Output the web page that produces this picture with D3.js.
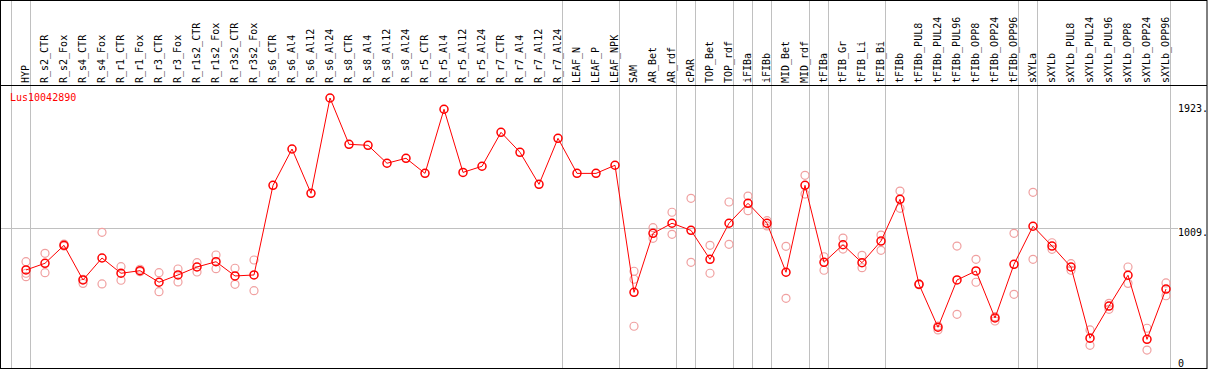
<!DOCTYPE html>
<html lang="en">
<head>
<meta charset="UTF-8">
<title>Lus10042890 expression</title>
<script src="https://cdn.jsdelivr.net/npm/d3@7"></script>
<style>
  body { margin: 0; background: #fff; }
  text { font-family: "DejaVu Sans Mono", monospace; font-size: 10px; }
</style>
</head>
<body>
<div id="chart"></div>
<script>
// sample names (one column each)
var samples = ["HYP","R_s2_CTR","R_s2_Fox","R_s4_CTR","R_s4_Fox","R_r1_CTR","R_r1_Fox","R_r3_CTR","R_r3_Fox",
  "R_r1s2_CTR","R_r1s2_Fox","R_r3s2_CTR","R_r3s2_Fox","R_s6_CTR","R_s6_Al4","R_s6_Al12","R_s6_Al24",
  "R_s8_CTR","R_s8_Al4","R_s8_Al12","R_s8_Al24","R_r5_CTR","R_r5_Al4","R_r5_Al12","R_r5_Al24",
  "R_r7_CTR","R_r7_Al4","R_r7_Al12","R_r7_Al24","LEAF_N","LEAF_P","LEAF_NPK","SAM","AR_Bet","AR_rdf",
  "cPAR","TOP_Bet","TOP_rdf","iFIBa","iFIBb","MID_Bet","MID_rdf","tFIBa","tFIB_Gr","tFIB_Li","tFIB_Bi",
  "tFIBb","tFIBb_PUL8","tFIBb_PUL24","tFIBb_PUL96","tFIBb_OPP8","tFIBb_OPP24","tFIBb_OPP96",
  "sXYLa","sXYLb","sXYLb_PUL8","sXYLb_PUL24","sXYLb_PUL96","sXYLb_OPP8","sXYLb_OPP24","sXYLb_OPP96"];

// mean expression per sample
var meanValues = [716,763,889,646,800,693,711,630,681,737,774,674,681,1310,1565,1254,1923,
  1598,1591,1465,1500,1394,1844,1401,1444,1682,1542,1317,1640,1394,1394,1451,559,973,1044,
  994,791,1044,1184,1044,700,1310,770,893,767,919,1212,615,314,646,709,379,756,
  1023,884,737,237,463,679,229,582];

// individual replicates (empty where none shown)
var replicates = [[774,693,669],[833,697],[898,884],[651,622],[980,618],[739,644],[721,704],[697,564],[723,632],
  [767,702],[821,725],[728,615],[786,571],[],[],[],[],
  [],[],[],[],[],[],[],[],[],[],[],[],[],[],[],[707,651,321],[1013,938],[1121,966],
  [1219,770],[889,693],[1193,896],[1235,1132],[1062,1025],[882,517],[1380,1249],[809,714],[940,863],[819,732],[961,854],
  [1270,1149],[612,618],[323,295],[884,405],[791,630],[388,358],[973,545],
  [1261,791],[907,861],[760,714],[295,187],[482,440],[737,622],[307,154],[625,535]];

// last sample of each group, a gray divider follows it
var groupEnds = ["HYP","R_r7_Al24","LEAF_NPK","AR_rdf","cPAR","TOP_rdf","iFIBa","iFIBb","MID_rdf",
  "tFIBa","tFIB_Bi","tFIBb_OPP96","sXYLa","sXYLb_OPP96"];

var yTicks = [1923, 1009, 0];
var geneName = "Lus10042890";

var W = 1209, H = 370;
var headerBottom = 85.5, plotBottom = 368.5;

var svg = d3.select("#chart").append("svg")
  .attr("width", W).attr("height", H);

var x = d3.scalePoint().domain(samples).range([26, 1166]);
var y = d3.scaleLinear().domain([0, 1923]).range([372, 98]);

// gridlines
svg.append("line")
  .attr("x1", 1).attr("x2", 1178)
  .attr("y1", Math.round(y(1009)) + 0.5).attr("y2", Math.round(y(1009)) + 0.5)
  .attr("stroke", "#c0c0c0");

var dividers = [x("HYP") - 15].concat(groupEnds.map(function(s) { return x(s) + 4; }));
svg.selectAll("line.div").data(dividers).enter().append("line")
  .attr("class", "div")
  .attr("x1", function(d) { return Math.round(d) + 0.5; })
  .attr("x2", function(d) { return Math.round(d) + 0.5; })
  .attr("y1", 0).attr("y2", plotBottom)
  .attr("stroke", "#c0c0c0");

// frame and header separator
svg.append("rect")
  .attr("x", 0.5).attr("y", 0.5).attr("width", 1206.5).attr("height", plotBottom - 0.5)
  .attr("fill", "none").attr("stroke", "#000");
svg.append("line")
  .attr("x1", 0).attr("x2", 1207).attr("y1", headerBottom).attr("y2", headerBottom)
  .attr("stroke", "#000");

// rotated sample labels
svg.selectAll("text.lab").data(samples).enter().append("text")
  .attr("class", "lab")
  .attr("transform", function(d) { return "translate(" + (x(d) + 3) + ",83) rotate(-90)"; })
  .attr("fill", "#000")
  .text(function(d) { return d; });

// y labels on the right
svg.selectAll("text.ytick").data(yTicks).enter().append("text")
  .attr("class", "ytick")
  .attr("x", 1178)
  .attr("y", function(d) {
    var top = Math.min(Math.max(y(d), headerBottom + 18), plotBottom - 10);
    return top + 8;
  })
  .attr("fill", "#000")
  .text(function(d) { return d === 0 ? "0" : d + "."; });

svg.append("text")
  .attr("x", 10).attr("y", 101)
  .attr("fill", "#ff0000")
  .text(geneName);

// replicate circles
var reps = [];
replicates.forEach(function(r, i) {
  r.forEach(function(v) { reps.push({ s: samples[i], v: v }); });
});
svg.selectAll("circle.rep").data(reps).enter().append("circle")
  .attr("class", "rep")
  .attr("cx", function(d) { return x(d.s); })
  .attr("cy", function(d) { return y(d.v); })
  .attr("r", 4)
  .attr("fill", "none")
  .attr("stroke", "#f0a0a0")
  .attr("stroke-width", 1.2);

// mean line and markers
var line = d3.line()
  .x(function(d, i) { return x(samples[i]); })
  .y(function(d) { return y(d); });

svg.append("path")
  .datum(meanValues)
  .attr("d", line)
  .attr("fill", "none")
  .attr("stroke", "#ff0000")
  .attr("stroke-width", 1);

svg.selectAll("circle.mean").data(meanValues).enter().append("circle")
  .attr("class", "mean")
  .attr("cx", function(d, i) { return x(samples[i]); })
  .attr("cy", function(d) { return y(d); })
  .attr("r", 4)
  .attr("fill", "none")
  .attr("stroke", "#ff0000")
  .attr("stroke-width", 1.5);
</script>
</body>
</html>
